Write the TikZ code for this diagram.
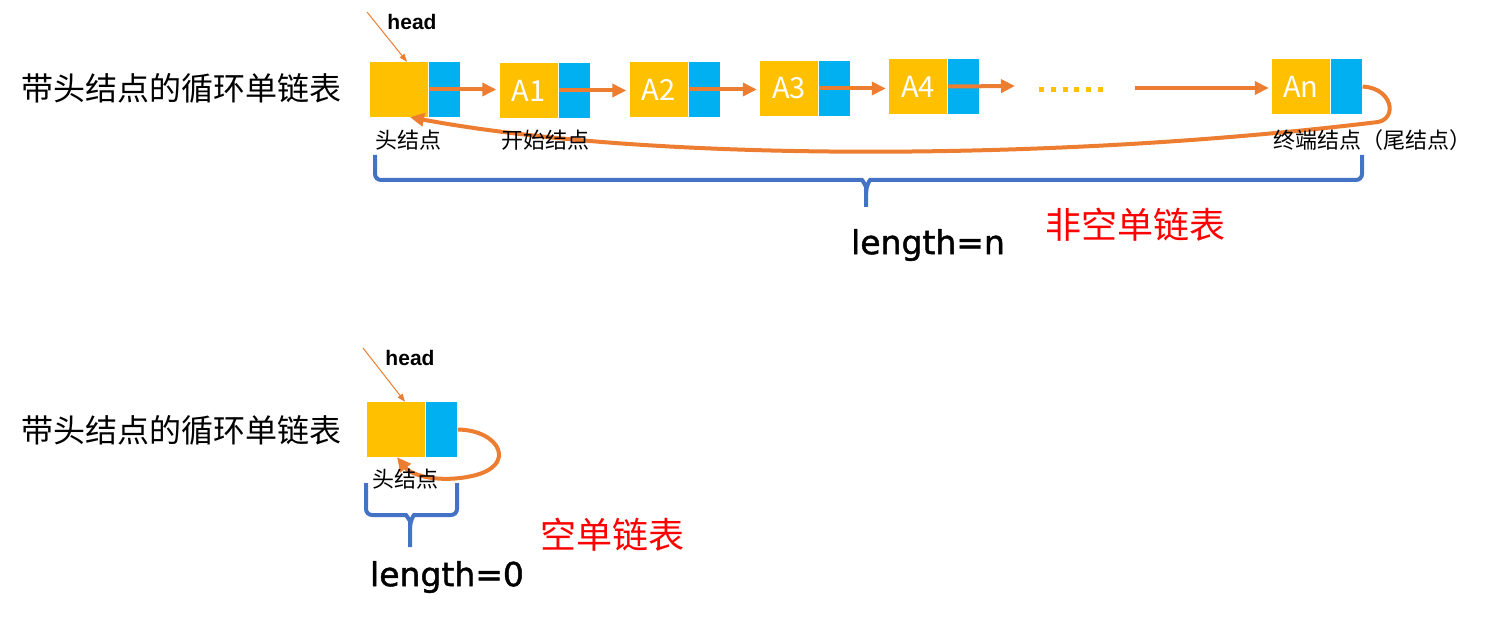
\documentclass[tikz,border=0pt]{standalone}
\usepackage{fontspec}
\setmainfont{Noto Sans CJK SC}
\newfontfamily\cjk{Noto Sans CJK SC}
\newfontfamily\latn[FakeBold=1.4]{DejaVu Sans}
\newfontfamily\arial{Liberation Sans}
\usetikzlibrary{arrows.meta}
\definecolor{yel}{HTML}{FFC000}
\definecolor{blu}{HTML}{00B0F0}
\definecolor{ora}{HTML}{ED7D31}
\definecolor{bblue}{HTML}{4472C4}
\definecolor{red0}{HTML}{FF0000}
\tikzset{
  ycell/.style={fill=yel, minimum width=58pt, minimum height=55pt, inner sep=0pt, text=white, font=\cjk\fontsize{29}{29}\selectfont},
  bcell/.style={fill=blu, minimum width=31pt, minimum height=55pt, inner sep=0pt, anchor=west},
  link/.style={draw=ora, line width=4pt, -{Triangle[length=14pt,width=13pt]}},
  loopline/.style={draw=ora, line width=4pt, -{Triangle[length=14pt,width=13pt]}},
  ptr/.style={draw=ora, line width=1pt, -{Triangle[length=8pt,width=6pt]}},
  dots/.style={draw=yel, line width=5pt, dash pattern=on 5pt off 6.8pt},
  bracel/.style={draw=bblue, line width=4pt, rounded corners=6pt},
  lab/.style={font=\cjk\fontsize{22}{22}\selectfont, inner sep=0pt},
  titl/.style={font=\cjk\fontsize{32}{32}\selectfont, inner sep=0pt},
  headlab/.style={font=\arial\bfseries\fontsize{21}{21}\selectfont, inner sep=0pt},
  lenlab/.style={font=\latn\fontsize{33}{33}\selectfont, inner sep=0pt},
  redlab/.style={font=\cjk\fontsize{36}{36}\selectfont, text=red0, inner sep=0pt}
}
\begin{document}
\begin{tikzpicture}[x=1pt,y=-1pt]
\useasboundingbox (0,0) rectangle (1501,620);
% ---------- top: non-empty list ----------
\node[titl] (t1) at (181,88) {带头结点的循环单链表};
\node[ycell] (h) at (399,89.5) {};
\node[bcell] (hb) at ([xshift=1pt]h.east) {};
\node[ycell] (a1) at (528.5,90.5) {A1};
\node[bcell] (a1b) at ([xshift=1pt]a1.east) {};
\node[ycell] (a2) at (658.5,89.5) {A2};
\node[bcell] (a2b) at ([xshift=1pt]a2.east) {};
\node[ycell] (a3) at (789,88.5) {A3};
\node[bcell] (a3b) at ([xshift=1pt]a3.east) {};
\node[ycell] (a4) at (918,86.5) {A4};
\node[bcell] (a4b) at ([xshift=1pt]a4.east) {};
\node[ycell] (an) at (1301,86.5) {An};
\node[bcell] (anb) at ([xshift=1pt]an.east) {};

\draw[link, shorten >=3pt] (hb.west) -- (hb.west -| a1.west);
\draw[link, shorten >=3pt] (a1b.west) -- (a1b.west -| a2.west);
\draw[link, shorten >=3pt] (a2b.west) -- (a2b.west -| a3.west);
\draw[link, shorten >=3pt] (a3b.west) -- (a3b.west -| a4.west);
\coordinate (d1) at (1015,86);
\draw[link] (a4b.west) -- (d1);
\coordinate (dl) at (1039,89.5);
\coordinate (dr) at (1106,89.5);
\draw[dots] (dl) -- (dr);
\coordinate (d2) at (1135,88);
\draw[link, shorten >=3pt] (d2) -- (d2 -| an.west);

\draw[loopline] (anb.east) .. controls (1392,88) and (1398,118) .. (1378,122)
  .. controls (1050,162) and (650,162) .. ([xshift=11pt]h.south);

\node[lab] (l1) at (408,140) {头结点};
\node[lab] (l2) at (545,140) {开始结点};
\node[lab] (l3) at (1372,140) {终端结点（尾结点）};

\node[headlab] (hd1) at (412,22) {head};
\coordinate (hs1) at (367,12);
\draw[ptr] (hs1) -- ([xshift=8pt]h.north);

\draw[bracel] (375,155) -- (375,180) -- (856,180) to[out=0,in=90] (866,193) -- (866,207);
\draw[bracel] (1362,155) -- (1362,180) -- (876,180) to[out=180,in=90] (866,193);

\node[lenlab] (len1) at (928,245) {length=n};
\node[redlab] (r1) at (1135,225) {非空单链表};

% ---------- bottom: empty list ----------
\node[titl] (t2) at (181,430) {带头结点的循环单链表};
\node[ycell] (e) at (396,429.5) {};
\node[bcell] (eb) at ([xshift=1pt]e.east) {};
\draw[loopline] (eb.east) .. controls (500,430) and (518,466) .. (472,476)
  .. controls (440,483) and (412,476) .. ([xshift=1pt]e.south);
\node[lab] (l4) at (405,479) {头结点};

\node[headlab] (hd2) at (410,358) {head};
\coordinate (hs2) at (363,348);
\draw[ptr] (hs2) -- ([xshift=9pt]e.north);

\draw[bracel] (366,483) -- (366,515) -- (400,515) to[out=0,in=90] (410,527) -- (410,547);
\draw[bracel] (457,483) -- (457,515) -- (420,515) to[out=180,in=90] (410,527);

\node[lenlab] (len2) at (447,577) {length=0};
\node[redlab] (r2) at (612,535) {空单链表};
\end{tikzpicture}
\end{document}
